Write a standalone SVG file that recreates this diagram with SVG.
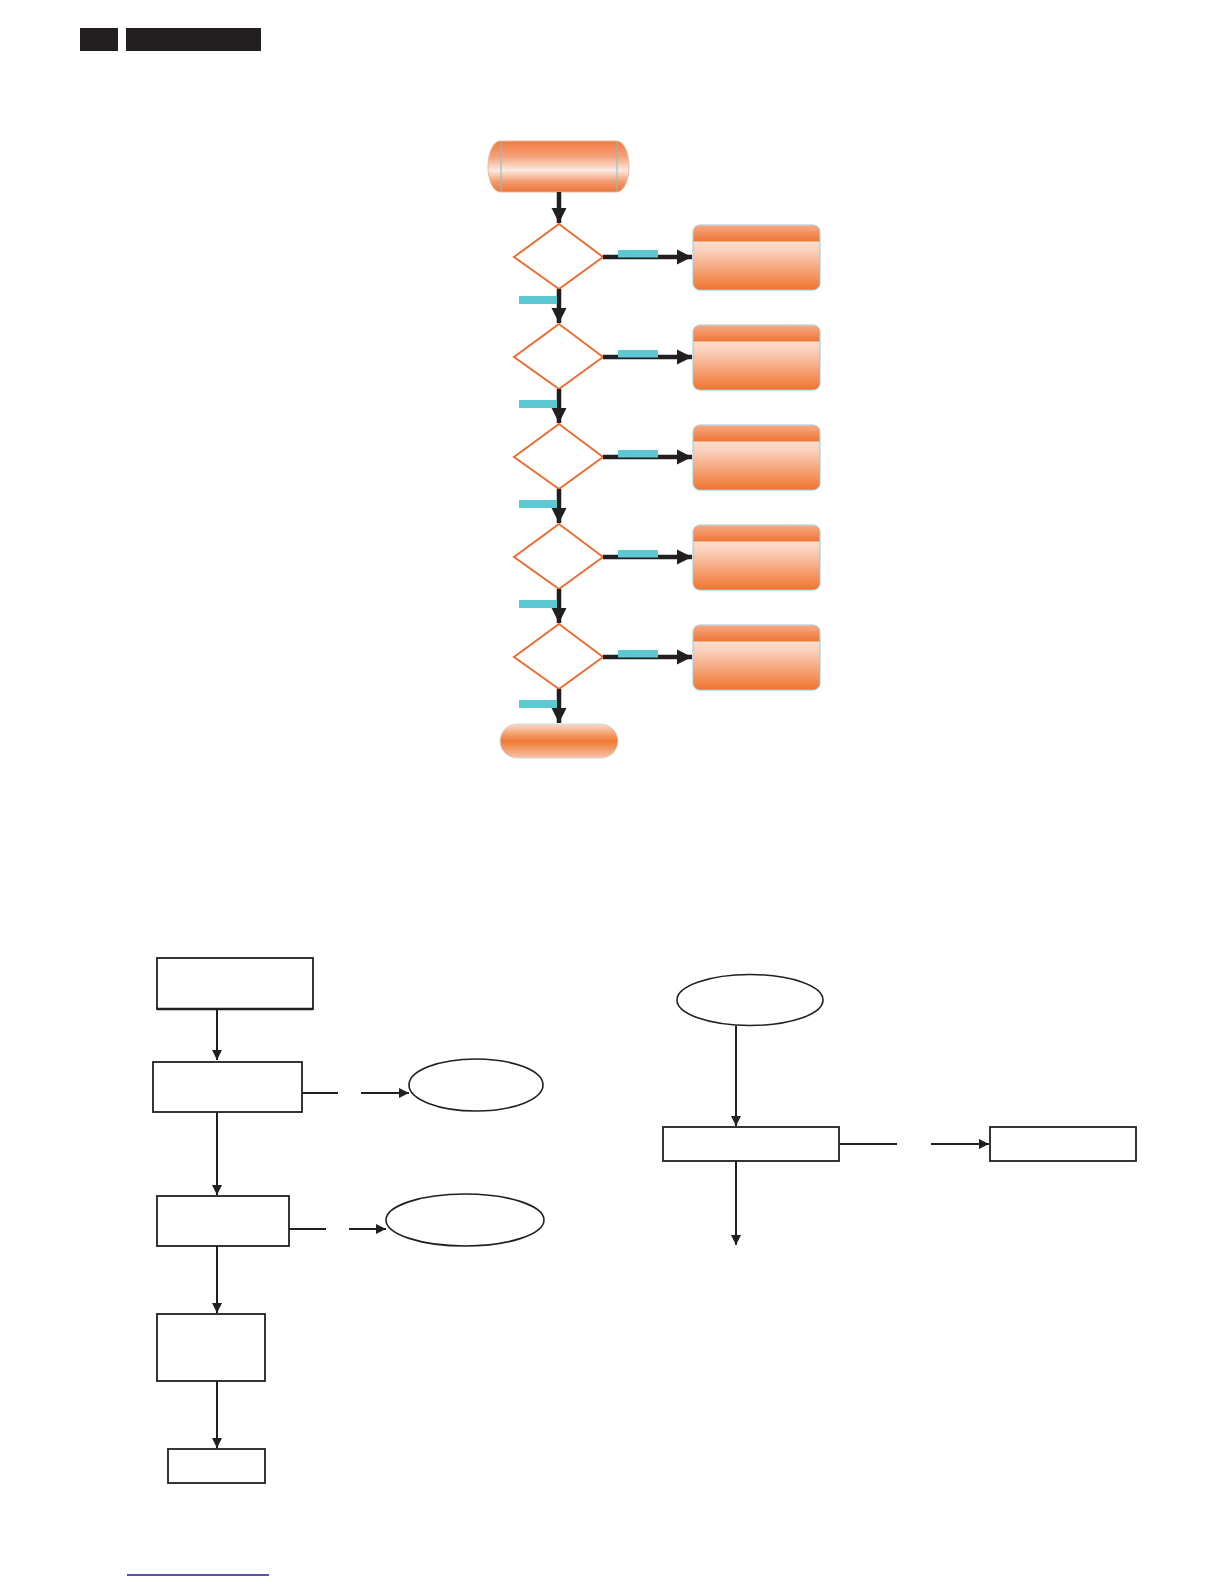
<svg xmlns="http://www.w3.org/2000/svg" width="1224" height="1584" viewBox="0 0 1224 1584">
<style>
.hdr{fill:#231f20}
.dia{fill:#ffffff;stroke:#ea6f35;stroke-width:2}
.tag{fill:#5ec8d2}
.thick{stroke:#231f20;stroke-width:4.5;fill:none}
.thin{stroke:#231f20;stroke-width:2;fill:none}
.rect{fill:#ffffff;stroke:#231f20;stroke-width:1.8}
.ell{fill:#ffffff;stroke:#231f20;stroke-width:1.6}
.obox{fill:url(#boxGrad);stroke:#8fcdd4;stroke-width:1}
.ostrip{fill:url(#stripGrad)}
</style>
<defs>
<linearGradient id="cylGrad" x1="0" y1="0" x2="0" y2="1">
<stop offset="0" stop-color="#f07a3e"/>
<stop offset="0.3" stop-color="#f4a17a"/>
<stop offset="0.58" stop-color="#fde9df"/>
<stop offset="0.8" stop-color="#f39a6c"/>
<stop offset="1" stop-color="#ee7535"/>
</linearGradient>
<linearGradient id="endGrad" x1="0" y1="0" x2="0" y2="1">
<stop offset="0" stop-color="#fbd9c8"/>
<stop offset="0.5" stop-color="#f07832"/>
<stop offset="1" stop-color="#f8c2a6"/>
</linearGradient>
<linearGradient id="boxGrad" x1="0" y1="0" x2="0" y2="1">
<stop offset="0" stop-color="#fef0e9"/>
<stop offset="0.4" stop-color="#fad0bb"/>
<stop offset="0.75" stop-color="#f49a68"/>
<stop offset="1" stop-color="#f07430"/>
</linearGradient>
<linearGradient id="stripGrad" x1="0" y1="0" x2="0" y2="1">
<stop offset="0" stop-color="#f7a784"/>
<stop offset="1" stop-color="#ef7636"/>
</linearGradient>
<marker id="bigArrow" viewBox="0 0 10 10" refX="10" refY="5" markerUnits="userSpaceOnUse" markerWidth="15" markerHeight="17" orient="auto">
<path d="M0,0 L10,5 L0,10 Z" fill="#231f20"/>
</marker>
<marker id="smallArrow" viewBox="0 0 10 10" refX="10" refY="5" markerUnits="userSpaceOnUse" markerWidth="12" markerHeight="10" orient="auto">
<path d="M0,0 L10,5 L0,10 Z" fill="#231f20"/>
</marker>
</defs>

<g id="header">
<rect class="hdr" x="80" y="28" width="38" height="23"/>
<rect class="hdr" x="126" y="28" width="135" height="23"/>
</g>

<g id="start">
<path d="M500,141 L617,141 A12,25.5 0 0 1 617,192 L500,192 A12,25.5 0 0 1 500,141 Z" fill="url(#cylGrad)" stroke="#e9b9a4" stroke-width="1"/>
<line x1="501" y1="142" x2="501" y2="191" stroke="#7fc6cc" stroke-width="1"/>
<line x1="617" y1="142" x2="617" y2="191" stroke="#7fc6cc" stroke-width="1"/>
</g>

<g id="decision1"><path class="dia" d="M559,224 L603,257 L559,289 L514,257 Z"/></g>
<g id="decision2"><path class="dia" d="M559,324 L603,357 L559,389 L514,357 Z"/></g>
<g id="decision3"><path class="dia" d="M559,424 L603,457 L559,489 L514,457 Z"/></g>
<g id="decision4"><path class="dia" d="M559,524 L603,557 L559,589 L514,557 Z"/></g>
<g id="decision5"><path class="dia" d="M559,624 L603,657 L559,689 L514,657 Z"/></g>

<g id="action1"><rect class="obox" x="693" y="225" width="127" height="65" rx="7"/><path class="ostrip" d="M693.5,241.5 L693.5,232 Q693.5,225.5 700,225.5 L813,225.5 Q819.5,225.5 819.5,232 L819.5,241.5 Z"/><line x1="694" y1="242.5" x2="819" y2="242.5" stroke="#fbe3d6" stroke-width="1.2"/></g>
<g id="action2"><rect class="obox" x="693" y="325" width="127" height="65" rx="7"/><path class="ostrip" d="M693.5,341.5 L693.5,332 Q693.5,325.5 700,325.5 L813,325.5 Q819.5,325.5 819.5,332 L819.5,341.5 Z"/><line x1="694" y1="342.5" x2="819" y2="342.5" stroke="#fbe3d6" stroke-width="1.2"/></g>
<g id="action3"><rect class="obox" x="693" y="425" width="127" height="65" rx="7"/><path class="ostrip" d="M693.5,441.5 L693.5,432 Q693.5,425.5 700,425.5 L813,425.5 Q819.5,425.5 819.5,432 L819.5,441.5 Z"/><line x1="694" y1="442.5" x2="819" y2="442.5" stroke="#fbe3d6" stroke-width="1.2"/></g>
<g id="action4"><rect class="obox" x="693" y="525" width="127" height="65" rx="7"/><path class="ostrip" d="M693.5,541.5 L693.5,532 Q693.5,525.5 700,525.5 L813,525.5 Q819.5,525.5 819.5,532 L819.5,541.5 Z"/><line x1="694" y1="542.5" x2="819" y2="542.5" stroke="#fbe3d6" stroke-width="1.2"/></g>
<g id="action5"><rect class="obox" x="693" y="625" width="127" height="65" rx="7"/><path class="ostrip" d="M693.5,641.5 L693.5,632 Q693.5,625.5 700,625.5 L813,625.5 Q819.5,625.5 819.5,632 L819.5,641.5 Z"/><line x1="694" y1="642.5" x2="819" y2="642.5" stroke="#fbe3d6" stroke-width="1.2"/></g>

<g id="end">
<rect x="500" y="724" width="118" height="34" rx="17" fill="url(#endGrad)" stroke="#c9dde0" stroke-width="1"/>
</g>

<g id="connectors">
<line class="thick" x1="559" y1="192" x2="559" y2="223" marker-end="url(#bigArrow)"/>
<line class="thick" x1="559" y1="289" x2="559" y2="323" marker-end="url(#bigArrow)"/>
<line class="thick" x1="559" y1="389" x2="559" y2="423" marker-end="url(#bigArrow)"/>
<line class="thick" x1="559" y1="489" x2="559" y2="523" marker-end="url(#bigArrow)"/>
<line class="thick" x1="559" y1="589" x2="559" y2="623" marker-end="url(#bigArrow)"/>
<line class="thick" x1="559" y1="689" x2="559" y2="723" marker-end="url(#bigArrow)"/>
<line class="thick" x1="603" y1="257" x2="692" y2="257" marker-end="url(#bigArrow)"/>
<line class="thick" x1="603" y1="357" x2="692" y2="357" marker-end="url(#bigArrow)"/>
<line class="thick" x1="603" y1="457" x2="692" y2="457" marker-end="url(#bigArrow)"/>
<line class="thick" x1="603" y1="557" x2="692" y2="557" marker-end="url(#bigArrow)"/>
<line class="thick" x1="603" y1="657" x2="692" y2="657" marker-end="url(#bigArrow)"/>

<line class="thin" x1="217" y1="1009" x2="217" y2="1060" marker-end="url(#smallArrow)"/>
<line class="thin" x1="302" y1="1093" x2="338" y2="1093"/>
<line class="thin" x1="361" y1="1093" x2="409" y2="1093" marker-end="url(#smallArrow)"/>
<line class="thin" x1="217" y1="1112" x2="217" y2="1195" marker-end="url(#smallArrow)"/>
<line class="thin" x1="289" y1="1229" x2="326" y2="1229"/>
<line class="thin" x1="349" y1="1229" x2="386" y2="1229" marker-end="url(#smallArrow)"/>
<line class="thin" x1="217" y1="1246" x2="217" y2="1313" marker-end="url(#smallArrow)"/>
<line class="thin" x1="217" y1="1381" x2="217" y2="1448" marker-end="url(#smallArrow)"/>

<line class="thin" x1="736" y1="1026" x2="736" y2="1126" marker-end="url(#smallArrow)"/>
<line class="thin" x1="839" y1="1144" x2="897" y2="1144"/>
<line class="thin" x1="931" y1="1144" x2="989" y2="1144" marker-end="url(#smallArrow)"/>
<line class="thin" x1="736" y1="1161" x2="736" y2="1245" marker-end="url(#smallArrow)"/>
</g>

<g id="labels">
<rect class="tag" x="618" y="250" width="40" height="7.5"/>
<rect class="tag" x="618" y="350" width="40" height="7.5"/>
<rect class="tag" x="618" y="450" width="40" height="7.5"/>
<rect class="tag" x="618" y="550" width="40" height="7.5"/>
<rect class="tag" x="618" y="650" width="40" height="7.5"/>
<rect class="tag" x="519" y="296" width="38" height="8"/>
<rect class="tag" x="519" y="400" width="38" height="8"/>
<rect class="tag" x="519" y="500" width="38" height="8"/>
<rect class="tag" x="519" y="600" width="38" height="8"/>
<rect class="tag" x="519" y="700" width="38" height="8"/>
</g>

<g id="box1"><rect class="rect" x="157" y="958" width="156" height="51"/><line x1="157" y1="1009" x2="313" y2="1009" stroke="#231f20" stroke-width="2.6"/></g>
<g id="box2"><rect class="rect" x="153" y="1062" width="149" height="50"/></g>
<g id="oval1"><ellipse class="ell" cx="476" cy="1085" rx="67" ry="26"/></g>
<g id="box3"><rect class="rect" x="157" y="1196" width="132" height="50"/></g>
<g id="oval2"><ellipse class="ell" cx="465" cy="1220" rx="79" ry="26"/></g>
<g id="box4"><rect class="rect" x="157" y="1314" width="108" height="67"/></g>
<g id="box5"><rect class="rect" x="168" y="1449" width="97" height="34"/></g>

<g id="oval3"><ellipse class="ell" cx="750" cy="1000" rx="73" ry="25.5"/></g>
<g id="box6"><rect class="rect" x="663" y="1127" width="176" height="34"/></g>
<g id="box7"><rect class="rect" x="990" y="1127" width="146" height="34"/></g>

<g id="footer">
<line x1="127" y1="1575" x2="269" y2="1575" stroke="#1a1a9a" stroke-width="1.5"/>
</g>
</svg>
